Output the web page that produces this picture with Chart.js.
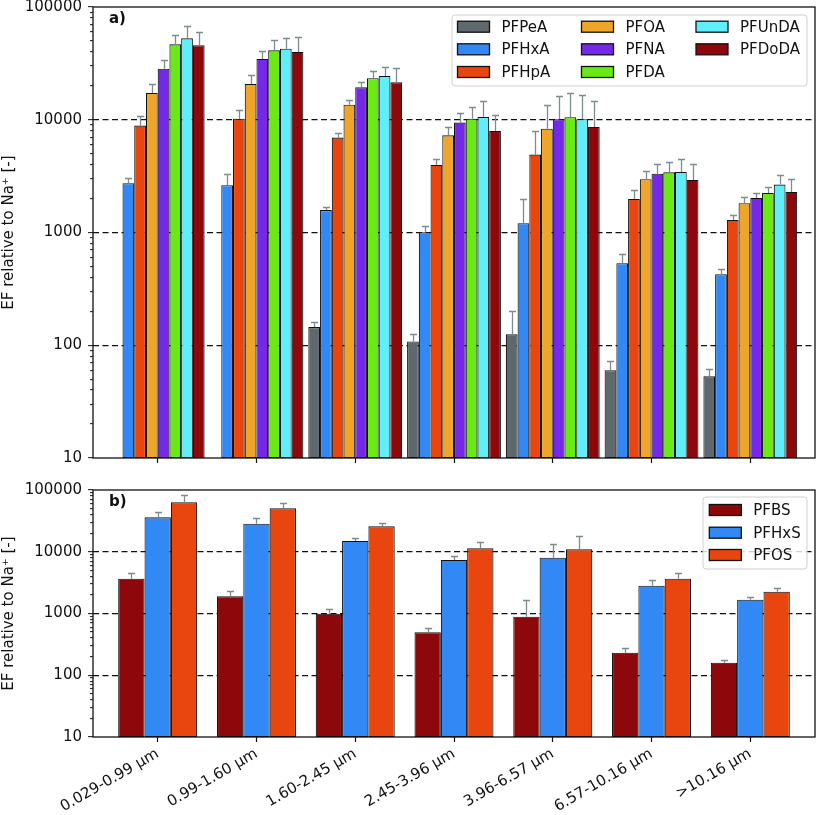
<!DOCTYPE html>
<html>
<head>
<meta charset="utf-8">
<script src="https://cdn.jsdelivr.net/npm/chart.js@4.4.1/dist/chart.umd.min.js"></script>
<style>
  body { margin: 0; background: #fff; }
  #wrap { position: relative; width: 817px; height: 815px; }
  canvas { position: absolute; left: 0; }
  #topChart { top: 0; }
  #botChart { top: 470px; }
</style>
</head>
<body>
<div id="wrap">
  <canvas id="topChart" width="817" height="470"></canvas>
  <canvas id="botChart" width="817" height="345"></canvas>
</div>
<script>
// --- Data ---
const categories = ['0.029-0.99 μm', '0.99-1.60 μm', '1.60-2.45 μm', '2.45-3.96 μm', '3.96-6.57 μm', '6.57-10.16 μm', '>10.16 μm'];
const decades = [10, 100, 1000, 10000, 100000];
const dashedLevels = [100, 1000, 10000];

// panel a) carboxylates
const PFPeA     = [null, null, 145, 108, 125, 60, 53];
const PFPeA_err = [null, null, 160, 125, 203, 72, 61];
const PFHxA     = [2740, 2630, 1580, 1005, 1210, 535, 427];
const PFHxA_err = [3030, 3290, 1700, 1146, 1970, 646, 473];
const PFHpA     = [8870, 10230, 6950, 3975, 4910, 1986, 1294];
const PFHpA_err = [10800, 12240, 7590, 4465, 8000, 2387, 1423];
const PFOA      = [17290, 20770, 13610, 7280, 8340, 2966, 1820];
const PFOA_err  = [20900, 25100, 14990, 8690, 13600, 3540, 2055];
const PFNA      = [28380, 34590, 19410, 9440, 10100, 3327, 2028];
const PFNA_err  = [33650, 40700, 21500, 11560, 16360, 4056, 2260];
const PFDA      = [46700, 41300, 23330, 10230, 10520, 3420, 2244];
const PFDA_err  = [56850, 50700, 26900, 13060, 17180, 4225, 2522];
const PFUnDA     = [52760, 42700, 24450, 10590, 10100, 3445, 2660];
const PFUnDA_err = [67900, 53100, 29600, 14760, 16600, 4490, 3222];
const PFDoDA     = [45740, 39900, 21490, 7960, 8630, 2925, 2290];
const PFDoDA_err = [60000, 54600, 28600, 11030, 14760, 4080, 2987];

// panel b) sulfonates
const PFBS      = [3660, 1897, 993, 495, 889, 232, 160];
const PFBS_err  = [4530, 2345, 1183, 590, 1655, 279, 175];
const PFHxS     = [36080, 28500, 14930, 7350, 8020, 2820, 1675];
const PFHxS_err = [43400, 35200, 16500, 8650, 13200, 3480, 1875];
const PFOS      = [63100, 50500, 25800, 11350, 10950, 3660, 2260];
const PFOS_err  = [84000, 62300, 29600, 14560, 17800, 4530, 2620];

const C = {
  grey: '#5f686d', blue: '#3289f5', red: '#e9450f', orange: '#eea52a',
  purple: '#7628e8', green: '#6aea14', cyan: '#60eefa', dark: '#8c080b'
};

const topSeries = [
  { label: 'PFPeA', vals: PFPeA, err: PFPeA_err, color: C.grey },
  { label: 'PFHxA', vals: PFHxA, err: PFHxA_err, color: C.blue },
  { label: 'PFHpA', vals: PFHpA, err: PFHpA_err, color: C.red },
  { label: 'PFOA', vals: PFOA, err: PFOA_err, color: C.orange },
  { label: 'PFNA', vals: PFNA, err: PFNA_err, color: C.purple },
  { label: 'PFDA', vals: PFDA, err: PFDA_err, color: C.green },
  { label: 'PFUnDA', vals: PFUnDA, err: PFUnDA_err, color: C.cyan },
  { label: 'PFDoDA', vals: PFDoDA, err: PFDoDA_err, color: C.dark }
];
const botSeries = [
  { label: 'PFBS', vals: PFBS, err: PFBS_err, color: C.dark },
  { label: 'PFHxS', vals: PFHxS, err: PFHxS_err, color: C.blue },
  { label: 'PFOS', vals: PFOS, err: PFOS_err, color: C.red }
];

// --- Look & feel ---
const FONT = 'DejaVu Sans, Liberation Sans, sans-serif';
const INK = '#111';
Chart.defaults.font.family = FONT;
Chart.defaults.font.size = 15;
Chart.defaults.color = INK;

// minor log ticks 20..90, 200..900 etc.
const yTicks = [];
decades.slice(0, -1).forEach(d => { for (let m = 1; m < 10; m++) yTicks.push(d * m); });
yTicks.push(decades[decades.length - 1]);

// upward error bars with caps
const errorBars = {
  id: 'errorBars',
  afterDatasetsDraw(chart) {
    const ctx = chart.ctx;
    const yScale = chart.scales.y;
    ctx.save();
    ctx.strokeStyle = '#7f8c8d';
    ctx.lineWidth = 1.3;
    chart.data.datasets.forEach((ds, di) => {
      const meta = chart.getDatasetMeta(di);
      meta.data.forEach((bar, i) => {
        const e = ds.errTop[i];
        if (e == null || ds.data[i].y == null || !isFinite(bar.y)) return;
        const top = Math.round(yScale.getPixelForValue(e)) + 0.5;
        const x = Math.round(bar.x) + 0.5;
        ctx.beginPath();
        ctx.moveTo(x, bar.y);
        ctx.lineTo(x, top);
        ctx.moveTo(x - 3.5, top);
        ctx.lineTo(x + 3.5, top);
        ctx.stroke();
      });
    });
    ctx.restore();
  }
};

// frame, panel tag and a column-wise legend like matplotlib's ncol layout
const panelDecor = {
  id: 'panelDecor',
  afterDraw(chart, args, opts) {
    const ctx = chart.ctx;
    const a = chart.chartArea;
    ctx.save();
    ctx.strokeStyle = INK;
    ctx.lineWidth = 1.3;
    ctx.strokeRect(a.left, a.top, a.right - a.left, a.bottom - a.top);

    ctx.font = 'bold 15px ' + FONT;
    ctx.fillStyle = INK;
    ctx.textBaseline = 'middle';
    ctx.fillText(opts.tag, a.left + 16, a.top + 12);

    const L = opts.legend;
    ctx.beginPath();
    ctx.roundRect(L.x, L.y, L.w, L.h, 3);
    ctx.fillStyle = 'rgba(255,255,255,0.8)';
    ctx.fill();
    ctx.strokeStyle = '#d0d0d0';
    ctx.lineWidth = 1;
    ctx.stroke();

    ctx.font = '15px ' + FONT;
    chart.data.datasets.forEach((ds, i) => {
      const col = Math.floor(i / L.rows);
      const row = i % L.rows;
      const px = L.colX[col];
      const py = L.rowY[row];
      ctx.fillStyle = ds.backgroundColor;
      ctx.fillRect(px, py - 5.5, 32, 11);
      ctx.strokeStyle = INK;
      ctx.lineWidth = 1.3;
      ctx.strokeRect(px, py - 5.5, 32, 11);
      ctx.fillStyle = INK;
      ctx.fillText(ds.label, px + 44, py + 1);
    });
    ctx.restore();
  }
};

function createChart(canvasId, series, cfg) {
  const ctx = document.getElementById(canvasId).getContext('2d');
  return new Chart(ctx, {
    type: 'bar',
    data: {
      datasets: series.map(s => ({
        label: s.label,
        data: categories.map((c, i) => ({ x: i, y: s.vals[i] })),
        errTop: s.err,
        backgroundColor: s.color,
        borderColor: INK,
        borderWidth: 1.1,
        borderSkipped: false,
        categoryPercentage: cfg.groupWidth,
        barPercentage: 1
      }))
    },
    plugins: [errorBars, panelDecor],
    options: {
      responsive: false,
      animation: false,
      layout: { padding: { top: cfg.padTop, right: 2, left: 0, bottom: 0 } },
      plugins: {
        legend: { display: false },
        tooltip: { enabled: false },
        panelDecor: { tag: cfg.tag, legend: cfg.legend }
      },
      scales: {
        x: {
          type: 'linear',
          min: -0.655,
          max: 6.655,
          offset: false,
          afterBuildTicks: s => { s.ticks = categories.map((c, i) => ({ value: i })); },
          afterFit: s => { s.height = cfg.xHeight; s.paddingLeft = 0; s.paddingRight = 0; },
          ticks: {
            display: cfg.showLabels,
            autoSkip: false,
            maxRotation: 30,
            minRotation: 30,
            padding: 3,
            callback: v => categories[v]
          },
          grid: { drawOnChartArea: false, offset: false, tickLength: 5, tickColor: INK, tickWidth: 1.2 },
          border: { display: false }
        },
        y: {
          type: 'logarithmic',
          min: 10,
          max: 100000,
          afterBuildTicks: s => { s.ticks = yTicks.map(v => ({ value: v })); },
          afterFit: s => { s.width = 93; s.paddingTop = 0; s.paddingBottom = 0; },
          ticks: {
            autoSkip: false,
            padding: 6,
            callback: v => decades.includes(v) ? String(v) : ''
          },
          grid: {
            color: c => (c.tick && dashedLevels.includes(c.tick.value)) ? INK : 'rgba(0,0,0,0)',
            lineWidth: 1.3,
            tickColor: INK,
            tickWidth: 1,
            tickLength: 5,
            tickBorderDash: c => (c.tick && decades.includes(c.tick.value)) ? [] : [0, 2, 3, 50]
          },
          border: { display: false, dash: [6, 3.5] },
          title: {
            display: true,
            text: 'EF relative to Na⁺ [-]',
            padding: { top: 0, bottom: 0 },
            font: { size: 15 }
          }
        }
      }
    }
  });
}

createChart('topChart', topSeries, {
  tag: 'a)',
  groupWidth: 0.95,
  padTop: 7,
  xHeight: 12,
  showLabels: false,
  legend: { x: 452, y: 15, w: 355, h: 71, rows: 3, colX: [457.5, 581.5, 696], rowY: [26.7, 49.3, 72] }
});

createChart('botChart', botSeries, {
  tag: 'b)',
  groupWidth: 0.8,
  padTop: 20,
  xHeight: 78,
  showLabels: true,
  legend: { x: 703, y: 27, w: 104, h: 72, rows: 3, colX: [709.3], rowY: [40, 62.7, 85] }
});
</script>
</body>
</html>
